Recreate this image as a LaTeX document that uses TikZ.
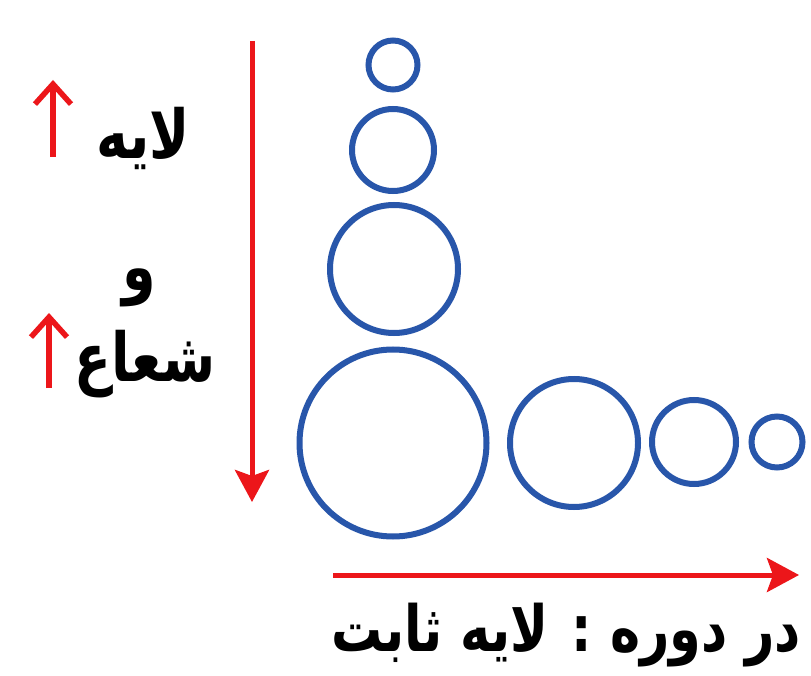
\documentclass[tikz,border=0pt]{standalone}
\usepackage{fontspec}
\newfontfamily\arabicfont[Script=Arabic]{DejaVu Sans}
\TeXXeTstate=1
\usetikzlibrary{arrows.meta}
\definecolor{ringblue}{RGB}{40,86,170}
\definecolor{arrred}{RGB}{236,22,26}
\tikzset{
  ring/.style={circle, draw=ringblue, line width=6pt, inner sep=0pt},
  bigarrow/.style={draw=arrred, line width=5pt, -{Stealth[length=32pt, width=34pt, inset=6pt]}},
  smallarrow/.style={draw=arrred, line width=5.5pt, -{Straight Barb[length=20pt, width=36pt]}},
  lbl/.style={inner sep=0pt, font=\arabicfont\bfseries\fontsize{54}{60}\selectfont},
  bottomlbl/.style={inner sep=0pt, font=\arabicfont\bfseries\fontsize{51}{60}\selectfont}
}
\newcommand{\talltext}[1]{\scalebox{1}[1.25]{#1}}
\begin{document}
\begin{tikzpicture}[x=1pt,y=-1pt]
\useasboundingbox (0,0) rectangle (811,676);
\fill[white] (0,0) rectangle (811,676);
% vertical column of rings
\node[ring, minimum size=49pt] (c1) at (393,65) {};
\node[ring, minimum size=82pt] (c2) at (393,150) {};
\node[ring, minimum size=128pt] (c3) at (394,269) {};
\node[ring, minimum size=187pt] (c4) at (393,443) {};
% horizontal row of rings
\node[ring, minimum size=128pt] (c5) at (574,443) {};
\node[ring, minimum size=84pt] (c6) at (694,442) {};
\node[ring, minimum size=51pt] (c7) at (777,442) {};
% big arrows
\coordinate (vtop) at (252,41);
\coordinate (vbot) at (252,502);
\draw[bigarrow] (vtop) -- (vbot);
\coordinate (hl) at (333,575);
\coordinate (hr) at (799,575);
\draw[bigarrow] (hl) -- (hr);
% small up arrows
\coordinate (a1b) at (53,157);
\coordinate (a1t) at (53,80);
\draw[smallarrow] (a1b) -- (a1t);
\coordinate (a2b) at (49,388);
\coordinate (a2t) at (49,313);
\draw[smallarrow] (a2b) -- (a2t);
% labels
\node[lbl] (t1) at (143,138) {\talltext{\beginR لایه\endR}};
\node[lbl] (t2) at (139,288) {\talltext{\beginR و\endR}};
\node[lbl] (t3) at (145,364) {\talltext{\beginR شعاع\endR}};
\node[bottomlbl] (t4) at (566,635) {\talltext{\beginR در دوره : لایه ثابت\endR}};
\end{tikzpicture}
\end{document}
